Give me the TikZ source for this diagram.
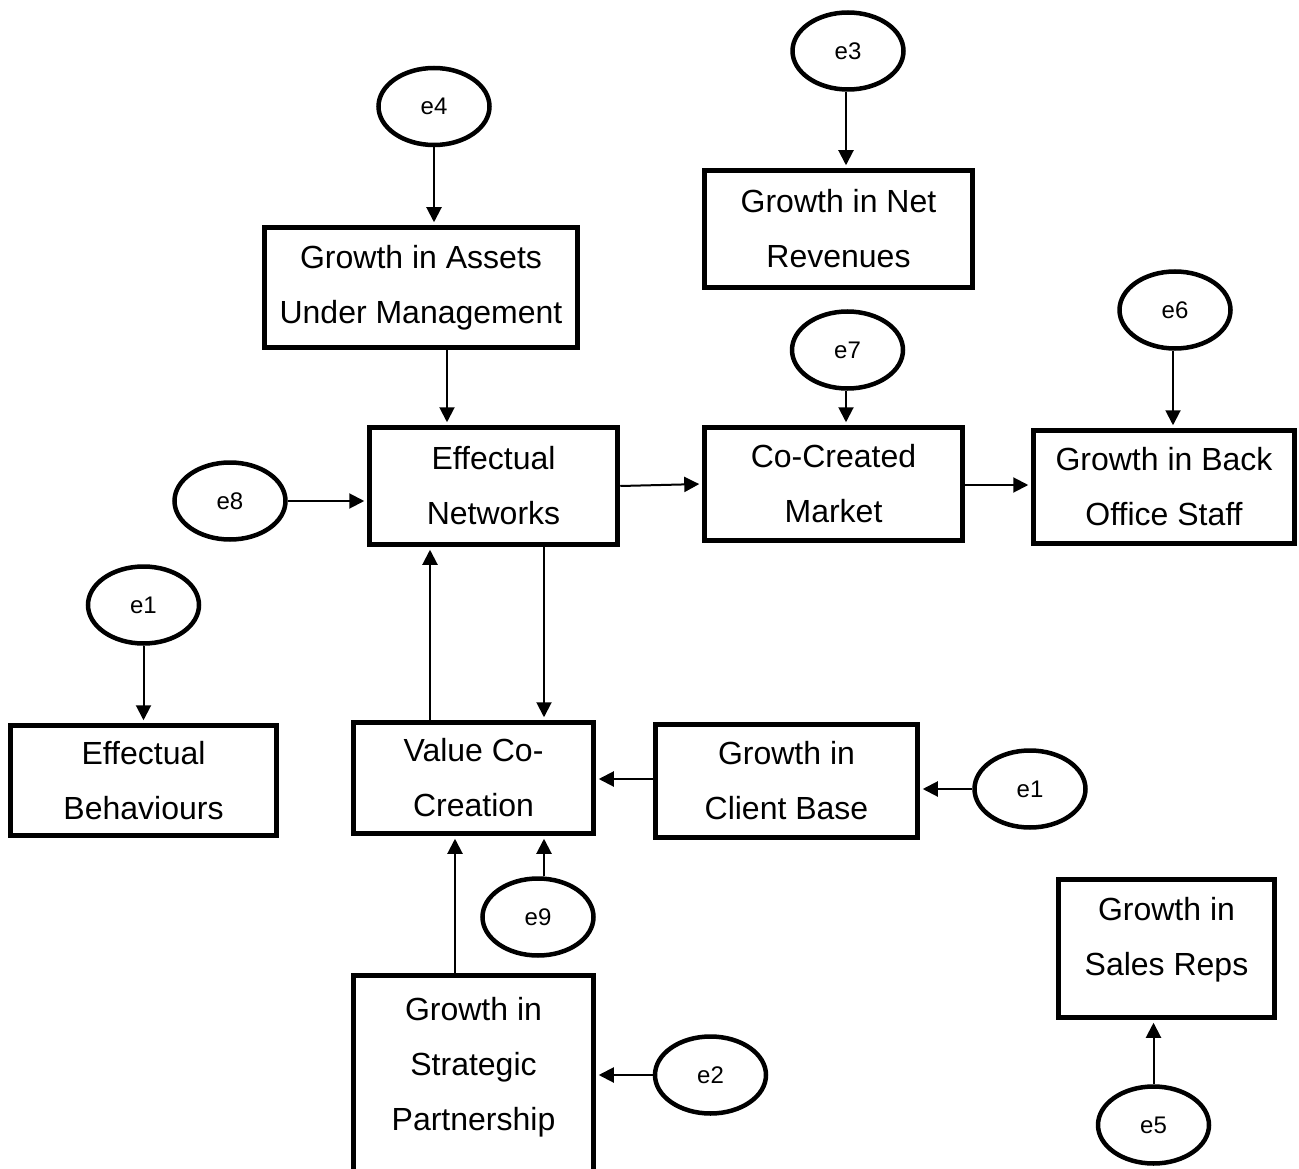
\documentclass[tikz,border=0pt]{standalone}
\usepackage{fontspec}
\setmainfont{Liberation Sans}
\usetikzlibrary{arrows.meta,calc,shapes.geometric}

\tikzset{
  var/.style={draw, line width=5.5pt, rectangle, inner sep=0pt, align=center,
    font=\fontsize{32}{55}\selectfont},
  vartext/.style={inner sep=0pt, align=center, font=\fontsize{32}{55}\selectfont},
  err/.style={draw, line width=4.5pt, ellipse, inner sep=0pt,
    minimum width=111pt, minimum height=77pt, font=\fontsize{24}{28}\selectfont},
  conn/.style={line width=2pt, -{Triangle[length=15pt,width=15pt]}, shorten >=2.5pt}
}

\begin{document}
\begin{tikzpicture}[x=1pt, y=-1pt]
\useasboundingbox (0,0) rectangle (1299,1169);
\clip (0,0) rectangle (1299,1169);

% observed variables
\node[var, minimum width=313pt, minimum height=120pt] (ast) at (421,287.5) {Growth in Assets\\Under Management};
\node[var, minimum width=268pt, minimum height=117pt] (rev) at (838.5,229) {Growth in Net\\Revenues};
\node[var, minimum width=248pt, minimum height=117pt] (net) at (493.5,486) {Effectual\\Networks};
\node[var, minimum width=258pt, minimum height=113pt] (ccm) at (833.5,484) {Co-Created\\Market};
\node[var, minimum width=261pt, minimum height=113pt] (bos) at (1164,487) {Growth in Back\\Office Staff};
\node[var, minimum width=266pt, minimum height=110pt] (beh) at (143.5,780.5) {Effectual\\Behaviours};
\node[var, minimum width=240pt, minimum height=111pt] (vcc) at (473.5,778) {Value Co-\\Creation};
\node[var, minimum width=262pt, minimum height=113pt] (cli) at (786.5,781) {Growth in\\Client Base};
\node[var, minimum width=216pt, minimum height=138pt] (sales) at (1166.5,948.5) {};
\node[vartext] (salestext) at (1166.5,939.5) {Growth in\\Sales Reps};
\node[var, minimum width=240pt, minimum height=215pt] (sp) at (473.5,1083) {};
\node[vartext] (sptext) at (473.5,1067) {Growth in\\Strategic\\Partnership};

% error terms
\node[err] (e4) at (434,106.5) {e4};
\node[err] (e3) at (848,51) {e3};
\node[err] (e7) at (847.5,350) {e7};
\node[err] (e6) at (1175,310) {e6};
\node[err] (e8) at (230,501) {e8};
\node[err] (e1a) at (143.5,605) {e1};
\node[err] (e1b) at (1030,789) {e1};
\node[err] (e9) at (538,917) {e9};
\node[err] (e2) at (710.5,1075) {e2};
\node[err] (e5) at (1153.5,1125) {e5};

% error paths
\draw[conn] (e4.south) -- (e4.south |- ast.north);
\draw[conn] ([xshift=-2pt]e3.south) -- ([xshift=-2pt]e3.south |- rev.north);
\draw[conn] ([xshift=-1.5pt]e7.south) -- ([xshift=-1.5pt]e7.south |- ccm.north);
\draw[conn] ([xshift=-2pt]e6.south) -- ([xshift=-2pt]e6.south |- bos.north);
\draw[conn] (e8.east) -- (e8.east -| net.west);
\draw[conn] (e1a.south) -- (e1a.south |- beh.north);
\draw[conn] (e1b.west) -- (e1b.west -| cli.east);
\draw[conn] ([xshift=6pt]e9.north) -- ([xshift=6pt]e9.north |- vcc.south);
\draw[conn] (e2.west) -- (e2.west -| sp.east);
\draw[conn] (e5.north) -- (e5.north |- sales.south);

% structural paths
\draw[conn] ([xshift=26pt]ast.south) -- ([xshift=26pt]ast.south |- net.north);
\draw[conn] (net.east) -- (ccm.west);
\draw[conn] ([yshift=-1pt]ccm.east) -- ([yshift=-1pt]ccm.east -| bos.west);
\draw[conn] ([xshift=-43.5pt]vcc.north) -- ([xshift=-43.5pt]vcc.north |- net.south);
\draw[conn] ([xshift=70.5pt]vcc.north |- net.south) -- ([xshift=70.5pt]vcc.north);
\draw[conn] ([yshift=2pt]cli.west) -- ([yshift=2pt]cli.west -| vcc.east);
\draw[conn] ([xshift=-18.5pt]sp.north) -- ([xshift=-18.5pt]sp.north |- vcc.south);
\end{tikzpicture}
\end{document}
